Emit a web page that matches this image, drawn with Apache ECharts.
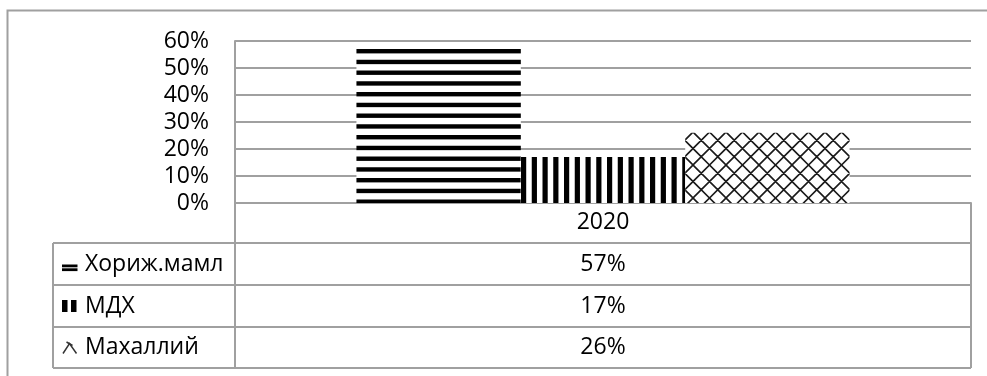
<!DOCTYPE html>
<html>
<head>
<meta charset="utf-8">
<script src="https://cdn.jsdelivr.net/npm/echarts@6/dist/echarts.min.js"></script>
<style>
  html, body { margin: 0; padding: 0; background: #fff; }
  #chart { width: 987px; height: 376px; }
</style>
</head>
<body>
<div id="chart"></div>
<script>
// Share of funding sources, 2020
const categories = ['2020'];
const seriesNames = ['Хориж.мамл', 'МДХ', 'Махаллий'];
const foreignValues = [0.57];
const mdxValues = [0.17];
const localValues = [0.26];
const yMin = 0;
const yMax = 0.6;
const yStep = 0.1;

const FONT = '"Open Sans", sans-serif';
const FONT_SIZE = 23;
const LINE = '#a0a0a0';

// plot box
const G = { left: 235, right: 971, top: 41, bottom: 203 };
// data table rows below the axis
const rowEdges = [203, 243, 285, 327, 368];
const tableLeft = 53;

function pct(v) { return Math.round(v * 100) + '%'; }

// ---- fill patterns (anchored to the canvas origin) ----
function hStripes() {
  const c = document.createElement('canvas');
  c.width = 8; c.height = 43;
  const g = c.getContext('2d');
  g.fillStyle = '#fff'; g.fillRect(0, 0, c.width, c.height);
  g.fillStyle = '#000';
  for (let i = -1; i < 5; i++) g.fillRect(0, 6 + i * 10.75, c.width, 4.4);
  return c;
}
function vStripes() {
  const c = document.createElement('canvas');
  c.width = 43; c.height = 8;
  const g = c.getContext('2d');
  g.fillStyle = '#fff'; g.fillRect(0, 0, c.width, c.height);
  g.fillStyle = '#000';
  for (let i = -1; i < 5; i++) g.fillRect(5 + i * 10.75, 0, 5.2, c.height);
  return c;
}
function crossHatch() {
  const s = 33;
  const c = document.createElement('canvas');
  c.width = s; c.height = s;
  const g = c.getContext('2d');
  g.fillStyle = '#fff'; g.fillRect(0, 0, s, s);
  g.strokeStyle = '#1a1a1a';
  g.lineWidth = 1.6;
  const step = s / 2;
  g.beginPath();
  for (let k = -2; k <= 4; k++) {
    const o = k * step;
    g.moveTo(o - s, -s); g.lineTo(o + s, s);
    g.moveTo(o + s, -s); g.lineTo(o - s, s);
  }
  g.stroke();
  return c;
}

const fills = [hStripes(), vStripes(), crossHatch()];
const seriesData = [foreignValues, mdxValues, localValues];

const chart = echarts.init(document.getElementById('chart'), null, { renderer: 'canvas' });

// data table: grid lines, legend keys, names and values
const graphics = [];
graphics.push({
  type: 'rect', silent: true,
  shape: { x: 7.5, y: 10.5, width: 1100, height: 500 },
  style: { fill: 'none', stroke: LINE, lineWidth: 2 }
});
function hline(x1, x2, y) {
  graphics.push({ type: 'line', silent: true, shape: { x1, y1: y, x2, y2: y },
    style: { stroke: LINE, lineWidth: 2 } });
}
function vline(x, y1, y2) {
  graphics.push({ type: 'line', silent: true, shape: { x1: x, y1, x2: x, y2 },
    style: { stroke: LINE, lineWidth: 2 } });
}
for (let r = 1; r < rowEdges.length; r++) hline(tableLeft, G.right, rowEdges[r]);
vline(G.left, G.bottom, rowEdges[rowEdges.length - 1]);
vline(G.right, G.bottom, rowEdges[rowEdges.length - 1]);
vline(tableLeft, rowEdges[1], rowEdges[rowEdges.length - 1]);

const colCenter = (G.left + G.right) / 2;
seriesNames.forEach((name, i) => {
  const yc = (rowEdges[i + 1] + rowEdges[i + 2]) / 2;
  graphics.push({
    type: 'text', silent: true,
    style: { text: name, x: 85, y: yc, font: FONT_SIZE + 'px ' + FONT,
      fill: '#000', align: 'left', verticalAlign: 'middle' }
  });
  graphics.push({
    type: 'text', silent: true,
    style: { text: pct(seriesData[i][0]), x: colCenter, y: yc, font: FONT_SIZE + 'px ' + FONT,
      fill: '#000', align: 'center', verticalAlign: 'middle' }
  });
});
// legend keys
const k1 = (rowEdges[1] + rowEdges[2]) / 2;
graphics.push({ type: 'rect', silent: true, shape: { x: 62, y: k1 + 0.5, width: 15.5, height: 2.8 }, style: { fill: '#000' } });
graphics.push({ type: 'rect', silent: true, shape: { x: 62, y: k1 + 4.3, width: 15.5, height: 2.8 }, style: { fill: '#000' } });
const k2 = (rowEdges[2] + rowEdges[3]) / 2;
graphics.push({ type: 'rect', silent: true, shape: { x: 62, y: k2 - 6, width: 5.5, height: 12 }, style: { fill: '#000' } });
graphics.push({ type: 'rect', silent: true, shape: { x: 71, y: k2 - 6, width: 5.5, height: 12 }, style: { fill: '#000' } });
const k3 = (rowEdges[3] + rowEdges[4]) / 2;
graphics.push({ type: 'polyline', silent: true,
  shape: { points: [[63, k3 + 6], [69.5, k3 - 4], [76.5, k3 + 6]] },
  style: { stroke: '#333', lineWidth: 1.5, fill: 'none' } });
graphics.push({ type: 'line', silent: true,
  shape: { x1: 66.5, y1: k3 - 5.5, x2: 72.5, y2: k3 - 2 },
  style: { stroke: '#333', lineWidth: 1.5 } });

chart.setOption({
  animation: false,
  backgroundColor: '#fff',
  textStyle: { fontFamily: FONT },
  grid: { left: G.left, right: 987 - G.right, top: G.top, bottom: 376 - G.bottom, containLabel: false },
  xAxis: {
    type: 'category',
    data: categories,
    axisLine: { show: true, lineStyle: { color: LINE, width: 2 } },
    axisTick: { show: false },
    axisLabel: { color: '#000', fontSize: FONT_SIZE, fontFamily: FONT, margin: 8 }
  },
  yAxis: {
    type: 'value',
    min: yMin, max: yMax, interval: yStep,
    axisLine: { show: true, lineStyle: { color: LINE, width: 2 } },
    axisTick: { show: false },
    splitLine: { lineStyle: { color: LINE, width: 2 } },
    axisLabel: { color: '#000', fontSize: FONT_SIZE, fontFamily: FONT, margin: 26, formatter: pct }
  },
  series: seriesNames.map((name, i) => ({
    name,
    type: 'bar',
    data: seriesData[i],
    barGap: '0%',
    barCategoryGap: '33%',
    itemStyle: { color: { image: fills[i], repeat: 'repeat' } }
  })),
  graphic: graphics
});
</script>
</body>
</html>
